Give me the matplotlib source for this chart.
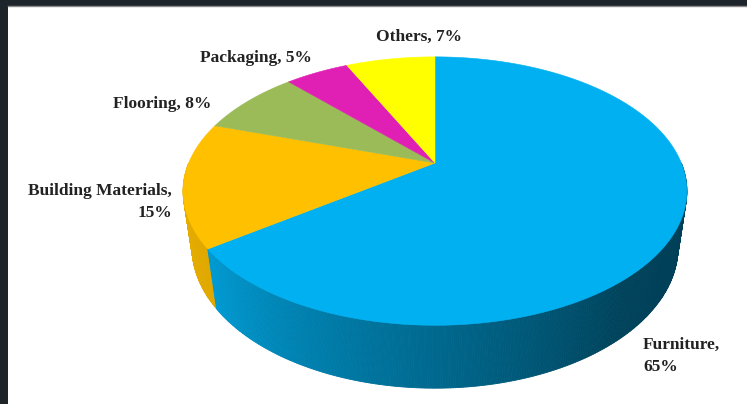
import numpy as np
import matplotlib
matplotlib.use('Agg')
import matplotlib.pyplot as plt
from matplotlib.patches import Polygon, Rectangle

# ---- data ----
categories = ['Furniture', 'Building Materials', 'Flooring', 'Packaging', 'Others']
shares = [65, 15, 8, 5, 7]
colors = ['#00B0F0', '#FFC000', '#9BBB59', '#E020B4', '#FFFF00']
labels = ['Furniture,\n65%', 'Building Materials,\n15%', 'Flooring, 8%',
          'Packaging, 5%', 'Others, 7%']

# ---- figure ----
W, H = 747, 404
fig = plt.figure(figsize=(W / 100, H / 100), dpi=100)
fig.patch.set_facecolor('#1d252b')
ax = fig.add_axes([0, 0, 1, 1])
ax.set_xlim(0, W)
ax.set_ylim(H, 0)
ax.axis('off')
ax.add_patch(Rectangle((8, 6), W - 8, H - 6, facecolor='white', edgecolor='none', zorder=0))
ax.plot([8, W], [5.5, 5.5], color='#8a8a8a', lw=1, zorder=1)

# ---- 3D perspective projection ----
cx, cy = 435, 163
alpha = np.radians(31.4)
D, F, h = 4.08, 1005.0, 0.274


def proj(X, Y, Z):
    w = D + Y * np.cos(alpha) - Z * np.sin(alpha)
    v = Y * np.sin(alpha) + Z * np.cos(alpha)
    return cx + F * X / w, cy - F * v / w


def shade(phi):
    return np.interp(phi, [180, 216, 310, 360], [0.92, 0.88, 0.38, 0.35])


def dark(col, f):
    rgb = np.array(matplotlib.colors.to_rgb(col))
    return tuple(np.clip(rgb * f, 0, 1))


# slice angular ranges (degrees, clockwise from 12 o'clock)
bounds = []
start = 90.0
for s in shares:
    end = start - 360.0 * s / 100.0
    bounds.append((end, start))
    start = end


def slice_of(phi):
    p = phi % 360
    for i, (a0, a1) in enumerate(bounds):
        for k in (-360, 0, 360):
            if a0 + k <= p < a1 + k:
                return i
    return 0


# ---- side walls (visible near half, 180..360), back-to-front ----
step = 0.5
order = list(np.arange(180, 270, step)) + list(np.arange(360 - step, 270 - step, -step))
for phi0 in order:
    phi1 = phi0 + step
    mid = phi0 + step / 2
    i = slice_of(mid)
    col = dark(colors[i], shade(mid))
    t = np.radians([phi0, phi1])
    xs_t, ys_t = proj(np.cos(t), np.sin(t), 0.0)
    xs_b, ys_b = proj(np.cos(t), np.sin(t), -h)
    pts = [(xs_t[0], ys_t[0]), (xs_t[1], ys_t[1]), (xs_b[1], ys_b[1]), (xs_b[0], ys_b[0])]
    ax.add_patch(Polygon(pts, closed=True, facecolor=col, edgecolor=col, lw=0.6, zorder=2))

# ---- top faces ----
for i, (a0, a1) in enumerate(bounds):
    t = np.radians(np.linspace(a0, a1, 200))
    xs, ys = proj(np.cos(t), np.sin(t), 0.0)
    x0, y0 = proj(0.0, 0.0, 0.0)
    pts = [(x0, y0)] + list(zip(xs, ys))
    ax.add_patch(Polygon(pts, closed=True, facecolor=colors[i], edgecolor=colors[i],
                         lw=0.4, zorder=3))

# ---- labels ----
font = dict(family=['Liberation Serif', 'DejaVu Serif'], fontsize=12.5,
            fontweight='bold', color='#222222', zorder=5)
ax.text(643, 356, labels[0], ha='left', va='center', multialignment='left',
        linespacing=1.55, **font)
ax.text(172, 202, labels[1], ha='right', va='center', multialignment='right',
        linespacing=1.5, **font)
ax.text(162, 104, labels[2], ha='center', va='center', **font)
ax.text(256, 58, labels[3], ha='center', va='center', **font)
ax.text(419, 37, labels[4], ha='center', va='center', **font)

fig.savefig('out.png', dpi=100, facecolor=fig.get_facecolor())
